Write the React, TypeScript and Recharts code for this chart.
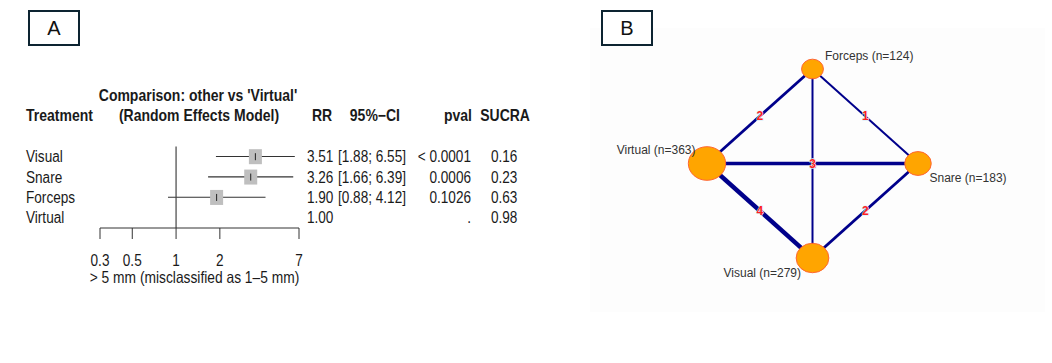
import React from "react";
import {
  ComposedChart,
  Bar,
  XAxis,
  YAxis,
  ReferenceLine,
  ReferenceDot,
  ScatterChart,
  Scatter,
} from "recharts";

const FONT = "'Liberation Sans', Arial, sans-serif";

// panel A: forest plot, other vs 'Virtual'
const treatments = ["Visual", "Snare", "Forceps", "Virtual"];
const riskRatio = [3.51, 3.26, 1.9, 1.0];
const ciLower = [1.88, 1.66, 0.88, null];
const ciUpper = [6.55, 6.39, 4.12, null];
const pValues = ["< 0.0001", "0.0006", "0.1026", "."];
const sucra = [0.16, 0.23, 0.63, 0.98];
const rrTicks = [0.3, 0.5, 1, 2, 7];

// panel B: network of comparisons
const nodeNames = ["Forceps", "Virtual", "Snare", "Visual"];
const nodeSizes = [124, 363, 183, 279];
const nodeX = [0, -1, 1, 0];
const nodeY = [1, 0, 0, -1];
const edgeFrom = ["Virtual", "Forceps", "Forceps", "Virtual", "Virtual", "Snare"];
const edgeTo = ["Forceps", "Snare", "Visual", "Snare", "Visual", "Visual"];
const edgeStudies = [2, 1, 1, 3, 4, 2];

const forestRows = treatments.map((name, i) => ({
  name,
  rr: riskRatio[i],
  ci: ciLower[i] == null ? null : [ciLower[i], ciUpper[i]],
}));

const nodes = nodeNames.map((name, i) => ({ name, n: nodeSizes[i], x: nodeX[i], y: nodeY[i] }));
const nodeByName = Object.fromEntries(nodes.map((d) => [d.name, d]));
const edges = edgeFrom.map((from, i) => ({
  a: nodeByName[from],
  b: nodeByName[edgeTo[i]],
  k: edgeStudies[i],
}));

// where each node's caption sits relative to the node
const labelPlace: Record<string, { dx: number; dy: number; anchor: string }> = {
  Forceps: { dx: 12.5, dy: -13.5, anchor: "start" },
  Virtual: { dx: -11.5, dy: -14, anchor: "end" },
  Snare: { dx: 11.5, dy: 14.5, anchor: "start" },
  Visual: { dx: -11.5, dy: 15, anchor: "end" },
};

// the forest plot text in the original is a bit taller than it is wide
const STRETCH = 1.15;

function TallText({ x, y, anchor, dy = "0.35em", children, ...rest }: any) {
  return (
    <text
      x={x}
      y={y}
      dy={dy}
      textAnchor={anchor || "start"}
      transform={`matrix(1 0 0 ${STRETCH} 0 ${-(STRETCH - 1) * y})`}
      {...rest}
    >
      {children}
    </text>
  );
}

function RowTick(props: any) {
  const { y, payload } = props;
  const i = treatments.indexOf(payload.value);
  const lo = ciLower[i];
  const hi = ciUpper[i];
  return (
    <g fontFamily={FONT} fontSize={13.6} fill="#1a1a1a">
      <TallText x={26} y={y}>{treatments[i]}</TallText>
      <TallText x={307} y={y}>{riskRatio[i].toFixed(2)}</TallText>
      {lo != null && hi != null && (
        <TallText x={338} y={y}>{`[${lo.toFixed(2)}; ${hi.toFixed(2)}]`}</TallText>
      )}
      <TallText x={471} y={y} anchor="end">{pValues[i]}</TallText>
      <TallText x={491} y={y}>{sucra[i].toFixed(2)}</TallText>
    </g>
  );
}

function RrTick(props: any) {
  const { x, y, payload } = props;
  return (
    <g fontFamily={FONT} fontSize={13.6} fill="#1a1a1a">
      <TallText x={x} y={y} dy="0.71em" anchor="middle">{String(payload.value)}</TallText>
    </g>
  );
}

function CiLine(props: any) {
  const { x, y, width, height, payload } = props;
  if (!payload || !payload.ci || !isFinite(width)) return <g />;
  const cy = y + height / 2;
  return <line x1={x} x2={x + width} y1={cy} y2={cy} stroke="#333" strokeWidth={1.2} />;
}

function EffectSquare(props: any) {
  const { cx, cy } = props;
  return (
    <g>
      <rect x={cx - 6.5} y={cy - 7.5} width={13} height={15} fill="#bfbfbf" />
      <line x1={cx} x2={cx} y1={cy - 3.5} y2={cy + 3.5} stroke="#222" strokeWidth={1} />
    </g>
  );
}

function AxisTitle(props: any) {
  const vb = props.viewBox || { x: 100, y: 228, width: 199 };
  return (
    <g fontFamily={FONT} fontSize={13.8} fill="#1a1a1a">
      <TallText x={vb.x + vb.width / 2 - 5} y={vb.y + 49.5} anchor="middle">
        {"> 5 mm (misclassified as 1–5 mm)"}
      </TallText>
    </g>
  );
}

function NodeShape(props: any) {
  const { cx, cy } = props;
  const node = props.payload || props;
  const rx = Math.sqrt(node.n) * 0.98;
  const ry = rx * 0.9;
  const place = labelPlace[node.name];
  return (
    <g>
      <ellipse cx={cx} cy={cy} rx={rx} ry={ry} fill="#ffa500" stroke="#ff6633" strokeWidth={1} />
      <text
        x={cx + place.dx}
        y={cy + place.dy}
        dy="0.35em"
        textAnchor={place.anchor as any}
        fontFamily={FONT}
        fontSize={12}
        fill="#333"
      >
        {`${node.name} (n=${node.n})`}
      </text>
    </g>
  );
}

function EdgeLabel(text: string) {
  return (props: any) => (
    <text
      x={props.cx}
      y={props.cy}
      dy="0.35em"
      textAnchor="middle"
      fontFamily={FONT}
      fontSize={12}
      fontWeight={600}
      fill="#ff1f1f"
      stroke="#d6ecf8"
      strokeWidth={1.1}
      paintOrder="stroke"
    >
      {text}
    </text>
  );
}

function PanelTag({ x, label }: { x: number; label: string }) {
  return (
    <g>
      <rect x={x} y={11} width={50} height={34} fill="#fff" stroke="#0d2431" strokeWidth={2} />
      <text x={x + 25} y={28} dy="0.35em" textAnchor="middle" fontFamily={FONT} fontSize={20} fill="#111">
        {label}
      </text>
    </g>
  );
}

export default function App() {
  return (
    <div style={{ position: "absolute", left: 0, top: 0, width: 1052, height: 363, background: "#fff" }}>
      <div style={{ position: "absolute", left: 0, top: 0 }}>
        <ComposedChart
          width={560}
          height={300}
          layout="vertical"
          data={forestRows}
          margin={{ top: 146.5, right: 261, bottom: 12, left: 0 }}
        >
          <XAxis
            type="number"
            scale="log"
            domain={[0.3, 7]}
            ticks={rrTicks}
            allowDataOverflow
            interval={0}
            height={60}
            tickSize={11}
            tickMargin={16}
            stroke="#333"
            tick={(p: any) => <RrTick {...p} />}
            label={{ content: AxisTitle }}
          />
          <YAxis
            type="category"
            dataKey="name"
            width={100}
            axisLine={false}
            tickLine={false}
            interval={0}
            tick={(p: any) => <RowTick {...p} />}
          />
          <ReferenceLine x={1} stroke="#444" strokeWidth={1.2} />
          <Bar dataKey="ci" barSize={10} shape={CiLine} isAnimationActive={false} />
          {forestRows
            .filter((r) => r.ci)
            .map((r) => (
              <ReferenceDot key={r.name} x={r.rr} y={r.name} ifOverflow="visible" shape={EffectSquare} />
            ))}
        </ComposedChart>
      </div>

      <div style={{ position: "absolute", left: 590, top: 28, background: "#fdfdfd" }}>
        <ScatterChart width={455} height={284} margin={{ top: 41, right: 127, bottom: 54, left: 117 }}>
          <XAxis type="number" dataKey="x" domain={[-1, 1]} hide />
          <YAxis type="number" dataKey="y" domain={[-1, 1]} hide />
          {edges.map((e, i) => (
            <ReferenceLine
              key={"e" + i}
              segment={[
                { x: e.a.x, y: e.a.y },
                { x: e.b.x, y: e.b.y },
              ]}
              stroke="#00008b"
              strokeWidth={1.2 + 0.8 * e.k}
              ifOverflow="visible"
            />
          ))}
          {edges.map((e, i) => (
            <ReferenceDot
              key={"l" + i}
              x={(e.a.x + e.b.x) / 2}
              y={(e.a.y + e.b.y) / 2}
              ifOverflow="visible"
              shape={EdgeLabel(String(e.k))}
            />
          ))}
          <Scatter data={nodes} shape={NodeShape} isAnimationActive={false} />
        </ScatterChart>
      </div>

      <svg
        width={1052}
        height={363}
        style={{ position: "absolute", left: 0, top: 0, pointerEvents: "none" }}
        fontFamily={FONT}
      >
        <PanelTag x={29} label="A" />
        <PanelTag x={602} label="B" />
        <g fontSize={14} fontWeight="bold" fill="#1a1a1a">
          <TallText x={198} y={95} anchor="middle">Comparison: other vs 'Virtual'</TallText>
          <TallText x={26} y={115}>Treatment</TallText>
          <TallText x={199} y={115} anchor="middle">(Random Effects Model)</TallText>
          <TallText x={322} y={115} anchor="middle">RR</TallText>
          <TallText x={400} y={115} anchor="end">95%−CI</TallText>
          <TallText x={472} y={115} anchor="end">pval</TallText>
          <TallText x={530} y={115} anchor="end">SUCRA</TallText>
        </g>
      </svg>
    </div>
  );
}
